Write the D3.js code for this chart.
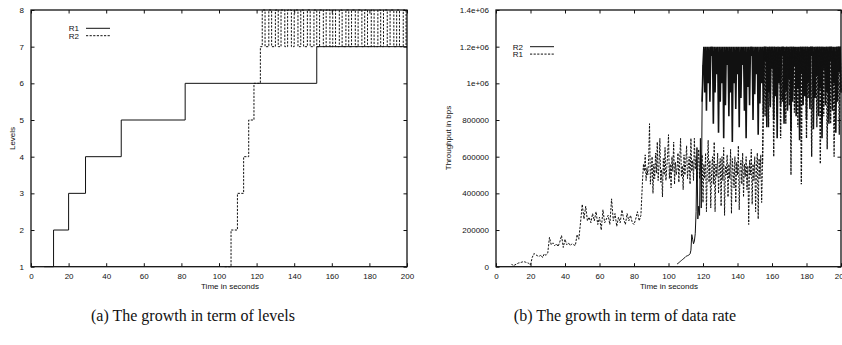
<!DOCTYPE html>
<html><head><meta charset="utf-8">
<script src="https://cdn.jsdelivr.net/npm/d3@7"></script>
<style>
body{margin:0;background:#fff}
svg{display:block;overflow:hidden}
.lab{font-family:"Liberation Sans",Arial,sans-serif;font-size:8px;fill:#111}
.cap{font-family:"Liberation Serif","Times New Roman",serif;font-size:16px;fill:#111}
</style>
</head><body>
<svg id="c" width="842" height="345"></svg>
<script>
// ---------- data ----------
const timeTicks = [0,20,40,60,80,100,120,140,160,180,200];
const levelTicks = [1,2,3,4,5,6,7,8];

// (a) levels: step times and levels
const r1LevelTimes = [7,12,20,29,48,82,152,200];
const r1Levels     = [1,2,3,4,5,6,7,7];
const r2LevelTimes = [103,106.4,109.8,113.1,115.8,118.6,122,
  123,124.5,126.5,128,130,131.5,133,135,136.5,138.5,
  140,142,143.5,145,147,148.5,150.5,152,153.5,155.5,
  157,159,160.5,162,164,165.5,167.5,169,170.5,172.5,
  174,176,177.5,179,181,182.5,184.5,186,187.5,189.5,
  191,193,194.5,196,198,199.5,200];
const r2Levels = [1,2,3,4,5,6,7,
  8,7,8,7,8,7,8,7,8,7,
  8,7,8,7,8,7,8,7,8,7,
  8,7,8,7,8,7,8,7,8,7,
  8,7,8,7,8,7,8,7,8,7,
  8,7,8,7,8,7,7];

// (b) data rate, in kbps
const rateTicks = [0,200,400,600,800,1000,1200,1400];
const rateTickLabels = ["0","200000","400000","600000","800000","1e+06","1.2e+06","1.4e+06"];

// R1: t = 9..84, every 1 s
const r1EarlyStart = 9, r1EarlyStep = 1;
const r1RateEarly = [15,5,10,15,20,22,25,28,25,22,
  18,10,50,72,65,60,55,65,50,70,
  62,75,160,120,130,115,125,110,135,170,
  105,150,120,130,115,125,120,115,175,150,
  240,340,260,330,250,270,240,290,250,300,
  230,270,200,310,240,260,280,230,370,250,
  290,220,270,240,310,260,230,290,250,280,
  240,230,260,300,250,280];
// R1: t = 85..200, every 0.5 s
const r1LateStart = 85, r1LateStep = 0.5;
const r1RateLate = [
  480,560,520,610,470,540,500,590,780,450,520,600,400,560,480,620,510,680,470,550,
  700,460,530,380,590,500,650,470,540,610,720,480,560,430,600,520,680,450,570,500,
  540,620,460,580,700,490,550,420,610,500,570,660,480,540,600,450,700,520,580,470,
  700,530,600,460,560,640,480,590,520,610,350,560,480,620,300,540,690,460,580,320,
  520,600,450,680,300,560,490,620,400,540,590,330,600,470,650,280,550,500,610,380,
  560,480,640,290,590,520,430,600,350,570,500,660,310,540,580,450,620,380,560,490,
  600,420,550,230,580,500,640,340,560,470,600,300,540,620,260,590,480,610,350,560,
  900,1200,820,1200,1000,1200,760,1200,880,1200,1100,1200,600,1200,950,1200,820,1200,1050,1200,
  700,1200,900,1200,1000,1200,780,1200,1150,1200,880,1200,500,1200,960,1200,840,1200,1100,1200,
  760,1200,980,1200,450,1200,880,1200,1050,1200,700,1200,920,1200,1150,1200,600,1200,860,1200,
  980,1200,760,1200,1100,1200,560,1200,900,1200,820,1200,1050,1200,640,1200,940,1200,780,1200,
  1000,1200,600,1200,880,1200,1100,1200,720,1200,950];
// R2: t = 105..200, every 0.5 s
const r2Start = 105, r2Step = 0.5;
const r2Rate = [
  15,18,22,26,30,34,38,42,46,50,55,58,60,62,65,70,90,175,150,125,
  140,180,300,650,260,330,280,700,320,900,
  1100,1200,950,1200,850,1200,1000,1200,900,1200,1150,1200,780,1200,950,1200,1050,1200,730,1200,
  900,1200,1000,1200,700,1200,880,1200,1100,1200,820,1200,950,1200,680,1200,1000,1200,860,1200,
  1050,1200,760,1200,920,1200,1100,1200,850,1200,700,1200,980,1200,880,1200,1150,1200,800,1200,
  940,1200,1050,1200,720,1200,890,1200,1000,1200,830,1200,1120,1200,760,1200,950,1200,870,1200,
  1080,1200,800,1200,930,1200,700,1200,1000,1200,880,1200,1150,1200,780,1200,960,1200,850,1200,
  1020,1200,740,1200,900,1200,1100,1200,820,1200,970,1200,690,1200,1050,1200,880,1200,930,1200,
  800,1200,1000,1200,860,1200,1150,1200,750,1200,920,1200,1040,1200,820,1200,970,1200,700,1200,
  1080,1200,880,1200,950,1200,780,1200,1120,1200,850,1200,1000,1200,730,1200,900,1200,1060,1200,
  950];

// ---------- drawing ----------
const svg = d3.select("#c");
const DASH = "2.2,1.4";

function frame(g, x, y, w, h, yTicks, yFmt) {
  const T = 3.5;
  g.append("g").attr("transform",`translate(0,${h})`)
    .call(d3.axisBottom(x).tickValues(timeTicks).tickSize(-T).tickPadding(7).tickFormat(d3.format("d")))
    .call(a=>{a.select(".domain").remove();a.selectAll("text").attr("class","lab").attr("font-size",null).attr("font-family",null);});
  g.append("g")
    .call(d3.axisTop(x).tickValues(timeTicks).tickSize(-T).tickFormat(""))
    .call(a=>a.select(".domain").remove());
  g.append("g")
    .call(d3.axisLeft(y).tickValues(yTicks).tickSize(-T).tickPadding(7).tickFormat(yFmt))
    .call(a=>{a.select(".domain").remove();a.selectAll("text").attr("class","lab").attr("font-size",null).attr("font-family",null);});
  g.append("g").attr("transform",`translate(${w},0)`)
    .call(d3.axisRight(y).tickValues(yTicks).tickSize(-T).tickFormat(""))
    .call(a=>a.select(".domain").remove());
  g.selectAll(".tick line").attr("stroke","#111").attr("stroke-width",1);
  g.append("rect").attr("width",w).attr("height",h).attr("fill","none").attr("stroke","#111").attr("stroke-width",1.3);
}

function legend(g, x0, y0, items) {
  items.forEach((it,i)=>{
    const yy = y0 + i*7.4;
    g.append("text").attr("class","lab").attr("x",x0).attr("y",yy+2.8).attr("text-anchor","end").text(it.name);
    g.append("line").attr("x1",x0+7).attr("x2",x0+31).attr("y1",yy).attr("y2",yy)
      .attr("stroke","#111").attr("stroke-width",1).attr("stroke-dasharray",it.dash?DASH:null);
  });
}

// ---- chart (a)
{
  const L=31, T=10, W=376, H=256.7;
  const g = svg.append("g").attr("transform",`translate(${L},${T})`);
  const x = d3.scaleLinear().domain([0,200]).range([0,W]);
  const y = d3.scaleLinear().domain([1,8]).range([H,0]);
  const line = d3.line().curve(d3.curveStepAfter).x(d=>x(d[0])).y(d=>y(d[1]));
  const r1 = r1LevelTimes.map((t,i)=>[t,r1Levels[i]]);
  const r2 = r2LevelTimes.map((t,i)=>[t,r2Levels[i]]);
  g.append("path").attr("d",line(r2)).attr("fill","none").attr("stroke","#111").attr("stroke-width",1).attr("stroke-dasharray",DASH);
  g.append("path").attr("d",line(r1)).attr("fill","none").attr("stroke","#111").attr("stroke-width",1);
  frame(g,x,y,W,H,levelTicks,d3.format("d"));
  legend(g, 79-L, 28.3-T, [{name:"R1",dash:false},{name:"R2",dash:true}]);
  g.append("text").attr("class","lab").attr("x",W/2+11).attr("y",H+22.5).attr("text-anchor","middle").text("Time in seconds");
  g.append("text").attr("class","lab").attr("transform",`translate(${14.5-L},${138.5-T}) rotate(-90)`).attr("text-anchor","middle").text("Levels");
}

// ---- chart (b)
{
  const L=496, T=10, W=345, H=256.7;
  const g = svg.append("g").attr("transform",`translate(${L},${T})`);
  const x = d3.scaleLinear().domain([0,200]).range([0,W]);
  const y = d3.scaleLinear().domain([0,1400]).range([H,0]);
  const line = d3.line().x(d=>x(d[0])).y(d=>y(d[1]));
  const r1 = r1RateEarly.map((v,i)=>[r1EarlyStart+i*r1EarlyStep,v])
    .concat(r1RateLate.map((v,i)=>[r1LateStart+i*r1LateStep,v]));
  const r2 = r2Rate.map((v,i)=>[r2Start+i*r2Step,v]);
  const r2a = r2.filter(d=>d[0]<=120), r2b = r2.filter(d=>d[0]>=119.5);
  const r1a = r1.filter(d=>d[0]<=155), r1b = r1.filter(d=>d[0]>=154.5);
  g.append("path").attr("d",line(r2a)).attr("fill","none").attr("stroke","#111").attr("stroke-width",1);
  g.append("path").attr("d",line(r2b)).attr("fill","none").attr("stroke","#111").attr("stroke-width",1.6);
  g.append("path").attr("d",line(r1a)).attr("fill","none").attr("stroke","#111").attr("stroke-width",1).attr("stroke-dasharray",DASH);
  g.append("path").attr("d",line(r1b)).attr("fill","none").attr("stroke","#111").attr("stroke-width",1.3).attr("stroke-dasharray",DASH);
  frame(g,x,y,W,H,rateTicks,(d,i)=>rateTickLabels[i]);
  legend(g, 523-L, 46.7-T, [{name:"R2",dash:false},{name:"R1",dash:true}]);
  g.append("text").attr("class","lab").attr("x",669-L).attr("y",H+22.5).attr("text-anchor","middle").text("Time in seconds");
  g.append("text").attr("class","lab").attr("transform",`translate(${451-L},${138-T}) rotate(-90)`).attr("text-anchor","middle").text("Throughput in bps");
}

// captions
svg.append("text").attr("class","cap").attr("x",193).attr("y",321).attr("text-anchor","middle").text("(a) The growth in term of levels");
svg.append("text").attr("class","cap").attr("x",625).attr("y",321).attr("text-anchor","middle").text("(b) The growth in term of data rate");
</script>
</body></html>
